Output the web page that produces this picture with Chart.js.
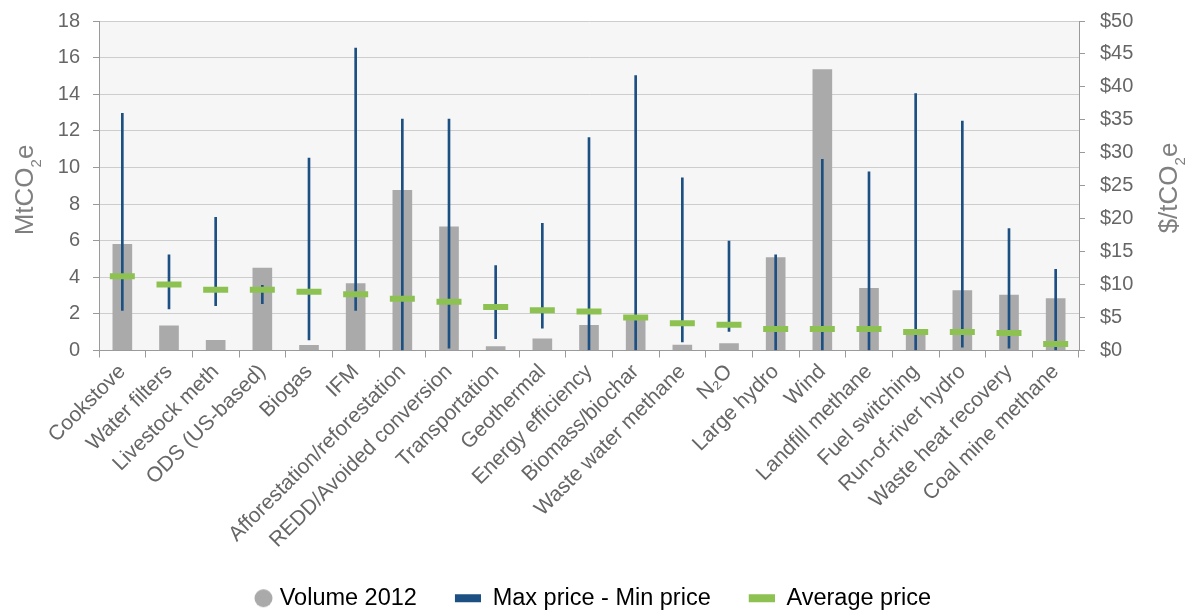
<!DOCTYPE html>
<html>
<head>
<meta charset="utf-8">
<script src="https://cdn.jsdelivr.net/npm/chart.js@4.4.1/dist/chart.umd.min.js"></script>
<style>
  html, body { margin: 0; padding: 0; background: #fff; }
  #kutu { width: 1187px; height: 610px; }
</style>
</head>
<body>
<div id="kutu"><canvas id="grafik" width="1187" height="610"></canvas></div>
<script>
// kategoriler (x ekseni)
const categories = ['Cookstove', 'Water filters', 'Livestock meth', 'ODS (US-based)', 'Biogas', 'IFM',
  'Afforestation/reforestation', 'REDD/Avoided conversion', 'Transportation', 'Geothermal',
  'Energy efficiency', 'Biomass/biochar', 'Waste water methane', 'N₂O', 'Large hydro', 'Wind',
  'Landfill methane', 'Fuel switching', 'Run-of-river hydro', 'Waste heat recovery', 'Coal mine methane'];

// hacim 2012 (MtCO2e, sol eksen)
const volume2012 = [5.8, 1.35, 0.55, 4.5, 0.28, 3.65, 8.75, 6.75, 0.22, 0.64, 1.37, 1.85, 0.3, 0.38,
  5.07, 15.35, 3.4, 1.15, 3.28, 3.03, 2.83];

// fiyatlar ($/tCO2e, sag eksen)
const maxPrice = [36.0, 14.5, 20.2, 9.9, 29.2, 45.9, 35.1, 35.1, 12.9, 19.3, 32.3, 41.7, 26.2, 16.6,
  14.5, 29.0, 27.1, 39.0, 34.8, 18.5, 12.3];
const minPrice = [6.1, 6.3, 6.8, 7.1, 1.6, 6.1, 0, 0.35, 1.8, 3.4, 0, 0, 1.3, 2.9,
  0, 0, 0, 0, 0.5, 0.35, 0];
const avgPrice = [11.25, 10.0, 9.2, 9.2, 8.9, 8.55, 7.85, 7.4, 6.6, 6.1, 5.9, 5.0, 4.15, 3.9,
  3.25, 3.25, 3.25, 2.8, 2.8, 2.65, 1.0];

// eksen ayarlari
const volumeTicks = [0, 2, 4, 6, 8, 10, 12, 14, 16, 18];
const priceTicks = [0, 5, 10, 15, 20, 25, 30, 35, 40, 45, 50];

const FONT = "'Liberation Sans', Arial, Helvetica, sans-serif";
const GRI = '#aaaaaa', MAVI = '#1c4f82', YESIL = '#8dc152';

// lejant isaretleri (sol taraf bos, sekil sagda)
function isaret(tip, renk) {
  const c = document.createElement('canvas');
  c.width = tip === 'daire' ? 72 : 62;
  c.height = 20;
  const g = c.getContext('2d');
  g.fillStyle = renk;
  if (tip === 'daire') {
    g.beginPath();
    g.arc(62.5, 10, 9, 0, Math.PI * 2);
    g.fill();
  } else {
    g.fillRect(36, 6, 26, 8);
  }
  return c;
}

// cizim alani arka plani
const arkaPlan = {
  id: 'arkaPlan',
  beforeDraw(chart) {
    const a = chart.chartArea, ctx = chart.ctx;
    ctx.save();
    ctx.fillStyle = '#f6f6f6';
    ctx.fillRect(a.left, a.top, a.right - a.left, a.bottom - a.top);
    ctx.restore();
  }
};

// alt simgeli eksen basliklari
function baslikYaz(ctx, parcalar, x, y) {
  ctx.save();
  ctx.translate(x, y);
  ctx.rotate(-Math.PI / 2);
  ctx.fillStyle = '#808080';
  ctx.textAlign = 'left';
  ctx.textBaseline = 'alphabetic';
  let toplam = 0;
  parcalar.forEach(p => { ctx.font = p[1] + 'px ' + FONT; toplam += ctx.measureText(p[0]).width; });
  let cx = -toplam / 2;
  parcalar.forEach(p => {
    ctx.font = p[1] + 'px ' + FONT;
    ctx.fillText(p[0], cx, p[2]);
    cx += ctx.measureText(p[0]).width;
  });
  ctx.restore();
}

const eksenBasliklari = {
  id: 'eksenBasliklari',
  afterDraw(chart) {
    const ctx = chart.ctx;
    baslikYaz(ctx, [['MtCO', 26, 0], ['2', 15, 8], ['e', 26, 0]], 33, 190);
    baslikYaz(ctx, [['$/tCO', 26, 0], ['2', 15, 8], ['e', 26, 0]], 1177, 188);
  }
};

const ctx = document.getElementById('grafik').getContext('2d');
window.grafik = new Chart(ctx, {
  data: {
    labels: categories,
    datasets: [
      {
        type: 'line',
        label: 'Average price',
        data: avgPrice,
        yAxisID: 'y1',
        showLine: false,
        pointStyle: 'line',
        pointRadius: 12.5,
        pointBorderWidth: 6,
        pointBorderColor: YESIL,
        pointBackgroundColor: YESIL,
        borderColor: YESIL,
        order: 1
      },
      {
        type: 'bar',
        label: 'Max price - Min price',
        data: minPrice.map((v, i) => [v, maxPrice[i]]),
        yAxisID: 'y1',
        backgroundColor: MAVI,
        barThickness: 2,
        grouped: false,
        order: 2
      },
      {
        type: 'bar',
        label: 'Volume 2012',
        data: volume2012,
        yAxisID: 'y',
        backgroundColor: GRI,
        barThickness: 19,
        grouped: false,
        order: 3
      }
    ]
  },
  options: {
    responsive: false,
    animation: false,
    layout: { padding: { top: 21, left: 0, right: 50, bottom: -10 } },
    scales: {
      x: {
        offset: true,
        grid: { drawOnChartArea: false, offset: true, tickLength: 7, color: '#9a9a9a' },
        border: { color: '#9a9a9a' },
        ticks: {
          maxRotation: 45, minRotation: 45, autoSkip: false, padding: 2,
          color: '#666', font: { family: FONT, size: 21 }
        },
        afterFit: s => { s.height = 234; }
      },
      y: {
        position: 'left',
        min: 0, max: 18,
        afterBuildTicks: s => { s.ticks = volumeTicks.map(v => ({ value: v })); },
        grid: { color: '#cdcdcd', tickLength: 6, tickColor: '#9a9a9a' },
        border: { color: '#9a9a9a' },
        ticks: { padding: 13, color: '#666', font: { family: FONT, size: 20 } },
        afterFit: s => { s.width = 99; s.paddingTop = 10; s.paddingBottom = 10; }
      },
      y1: {
        position: 'right',
        min: 0, max: 50,
        afterBuildTicks: s => { s.ticks = priceTicks.map(v => ({ value: v })); },
        grid: { drawOnChartArea: false, tickLength: 6, color: '#9a9a9a' },
        border: { color: '#9a9a9a' },
        ticks: {
          padding: 15, color: '#666', font: { family: FONT, size: 20 },
          callback: v => '$' + v
        },
        afterFit: s => { s.width = 58; s.paddingTop = 10; s.paddingBottom = 10; }
      }
    },
    plugins: {
      tooltip: { enabled: false },
      legend: {
        position: 'bottom',
        labels: {
          usePointStyle: true,
          pointStyleWidth: 62,
          padding: 2,
          color: '#555',
          font: { family: FONT, size: 23.5 },
          generateLabels: function(chart) {
            return [
              { text: 'Volume 2012', pointStyle: isaret('daire', GRI), fillStyle: GRI, strokeStyle: GRI, lineWidth: 0, hidden: false, datasetIndex: 2 },
              { text: 'Max price - Min price', pointStyle: isaret('kutu', MAVI), fillStyle: MAVI, strokeStyle: MAVI, lineWidth: 0, hidden: false, datasetIndex: 1 },
              { text: 'Average price', pointStyle: isaret('kutu', YESIL), fillStyle: YESIL, strokeStyle: YESIL, lineWidth: 0, hidden: false, datasetIndex: 0 }
            ];
          }
        }
      }
    }
  },
  plugins: [arkaPlan, eksenBasliklari]
});
</script>
</body>
</html>
